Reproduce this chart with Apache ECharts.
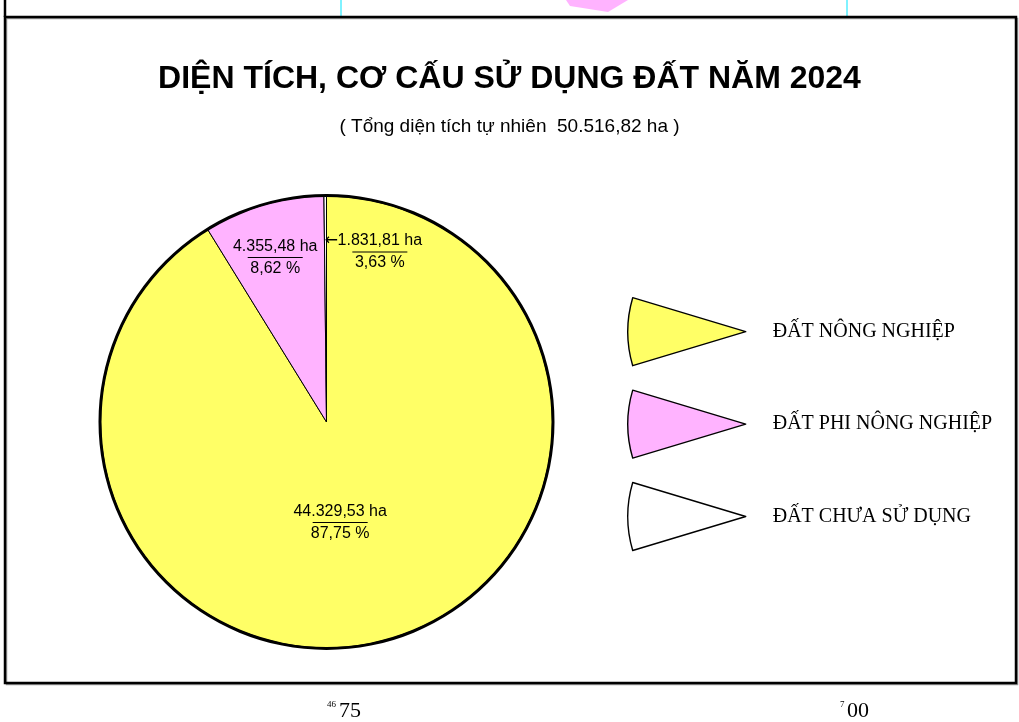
<!DOCTYPE html>
<html>
<head>
<meta charset="utf-8">
<script src="https://cdn.jsdelivr.net/npm/echarts@6/dist/echarts.min.js"></script>
<style>
html,body{margin:0;padding:0;background:#fff;}
#chart{width:1019px;height:722px;}
</style>
</head>
<body>
<div id="chart"></div>
<script>
// ---- data ----
var titleText = 'DIỆN TÍCH, CƠ CẤU SỬ DỤNG ĐẤT NĂM 2024';
var subtitleText = '( Tổng diện tích tự nhiên  50.516,82 ha )';
var categories = ['ĐẤT NÔNG NGHIỆP', 'ĐẤT PHI NÔNG NGHIỆP', 'ĐẤT CHƯA SỬ DỤNG'];
var areaLabels = ['44.329,53 ha', '4.355,48 ha', '1.831,81 ha'];
var percentLabels = ['87,75 %', '8,62 %', '3,63 %'];
// slice sizes as drawn in the picture (percent of the circle)
var drawnShares = [91.2, 8.62, 0.18];

// ---- styles ----
var colors = ['#FFFF66', '#FFB3FF', '#FFFFFF'];
var labelOffsets = [[-18, -11], [-19, -53], [54, -54]];

var chart = echarts.init(document.getElementById('chart'), null, {renderer: 'canvas'});

var pieData = categories.map(function (name, i) {
  return {
    name: name,
    value: drawnShares[i],
    itemStyle: {color: colors[i]},
    label: {offset: labelOffsets[i]}
  };
});

var legendIcon = 'path://M5,0 L118,34 L5,68 Q-5,34 5,0 Z';

var option = {
  backgroundColor: '#fff',
  animation: false,
  title: [
    {
      text: titleText, left: 'center', top: 58,
      textStyle: {fontFamily: 'Liberation Sans', fontSize: 32, fontWeight: 'bold', color: '#000'}
    },
    {
      text: subtitleText, left: 'center', top: 112,
      textStyle: {fontFamily: 'Liberation Sans', fontSize: 19, fontWeight: 'normal', color: '#000'}
    }
  ],
  legend: {
    orient: 'vertical',
    left: 622, top: 292,
    itemWidth: 118, itemHeight: 68, itemGap: 23,
    icon: legendIcon,
    selectedMode: false,
    data: categories,
    itemStyle: {borderColor: '#000', borderWidth: 1.4},
    textStyle: {fontFamily: 'Liberation Serif', fontSize: 20, color: '#000', padding: [0, 0, 0, 22]}
  },
  series: [
    {
      type: 'pie',
      center: [326.5, 422],
      radius: [225, 228],
      silent: true,
      z: 3,
      label: {show: false},
      labelLine: {show: false},
      itemStyle: {color: '#000', borderWidth: 0},
      data: [{value: 1, name: '_ring'}],
      legendHoverLink: false
    },
    {
      type: 'pie',
      center: [326.5, 422],
      radius: 226,
      startAngle: 90,
      clockwise: true,
      silent: true,
      avoidLabelOverlap: false,
      itemStyle: {borderColor: '#000', borderWidth: 1},
      emphasis: {disabled: true},
      label: {
        show: true,
        position: 'inside',
        formatter: function (p) {
          var i = p.dataIndex;
          var top = i === 2 ? '{arr|←}{a|' + areaLabels[i] + '}{sp|}' : '{a|' + areaLabels[i] + '}';
          return top + '\n{l|}\n{b|' + percentLabels[i] + '}';
        },
        rich: {
          a: {fontFamily: 'Liberation Sans', fontSize: 16, color: '#000', lineHeight: 18},
          b: {fontFamily: 'Liberation Sans', fontSize: 16, color: '#000', lineHeight: 18},
          l: {width: 55, height: 1, lineHeight: 4, backgroundColor: '#000'},
          arr: {fontFamily: 'DejaVu Sans', fontSize: 16, color: '#000', width: 13, lineHeight: 18},
          sp: {width: 13, lineHeight: 18}
        }
      },
      labelLine: {show: false},
      data: pieData
    }
  ],
  graphic: [
    // frame shadow + frame
    {type: 'rect', shape: {x: 6.5, y: 18.5, width: 1011, height: 666}, style: {fill: 'none', stroke: '#999', lineWidth: 1.5}, z: 1, silent: true},
    {type: 'rect', shape: {x: 5, y: 17, width: 1011, height: 666}, style: {fill: 'none', stroke: '#000', lineWidth: 2.5}, z: 2, silent: true},
    {type: 'line', shape: {x1: 5, y1: 0, x2: 5, y2: 17}, style: {stroke: '#000', lineWidth: 2.5}, silent: true},
    // artifacts above frame
    {type: 'line', shape: {x1: 341, y1: 0, x2: 341, y2: 16}, style: {stroke: '#00E5FF', lineWidth: 1}, silent: true},
    {type: 'line', shape: {x1: 847, y1: 0, x2: 847, y2: 16}, style: {stroke: '#00E5FF', lineWidth: 1}, silent: true},
    {type: 'polygon', shape: {points: [[566, 0], [570, 6], [608, 12], [628, 0]]}, style: {fill: '#FFB3FF'}, silent: true},
    // bottom marks outside frame
    {type: 'text', x: 327, y: 700, style: {text: '46', font: '9px "Liberation Serif"', fill: '#000'}, silent: true},
    {type: 'text', x: 339, y: 700, style: {text: '75', font: '22px "Liberation Serif"', fill: '#000'}, silent: true},
    {type: 'text', x: 840, y: 700, style: {text: '7', font: '9px "Liberation Serif"', fill: '#000'}, silent: true},
    {type: 'text', x: 847, y: 700, style: {text: '00', font: '22px "Liberation Serif"', fill: '#000'}, silent: true}
  ]
};

chart.setOption(option);
</script>
</body>
</html>
